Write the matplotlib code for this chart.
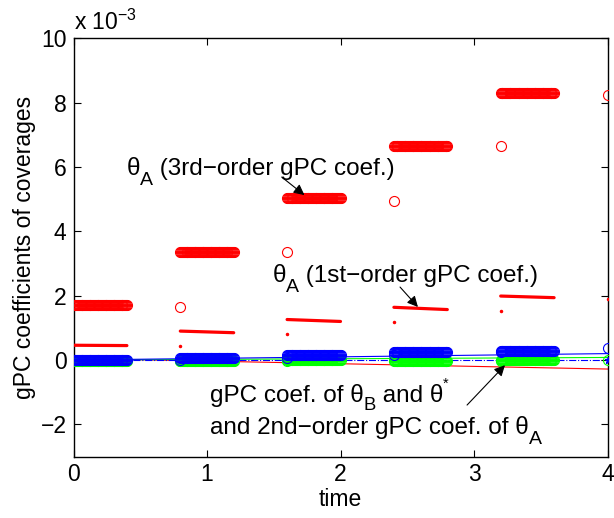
import numpy as np
import matplotlib
matplotlib.use("Agg")
import matplotlib.pyplot as plt
from matplotlib.transforms import offset_copy

plt.rcParams['font.family'] = ['Liberation Sans', 'DejaVu Sans']
plt.rcParams['mathtext.fontset'] = 'custom'
plt.rcParams['mathtext.rm'] = 'Liberation Sans'
plt.rcParams['mathtext.it'] = 'Liberation Sans'
plt.rcParams['mathtext.bf'] = 'Liberation Sans:bold'
plt.rcParams['axes.unicode_minus'] = True

# ---------------- data (values in units of 1e-3) ----------------
seg_start = [0.0, 0.8, 1.6, 2.4, 3.2]
seg_offsets = np.linspace(0.0, 0.4, 61)          # sampling times inside a segment
jump_t = [0.8, 1.6, 2.4, 3.2, 4.0]

red3_band = [1.72, 3.35, 5.03, 6.65, 8.30]
red3_jump = [1.66, 3.35, 4.95, 6.65, 8.25]

red1_start = [0.46, 0.90, 1.26, 1.64, 1.99]
red1_end = [0.45, 0.85, 1.20, 1.57, 1.94]
red1_jump = [0.44, 0.81, 1.17, 1.52, 1.90]

blue_band = [0.00, 0.06, 0.15, 0.25, 0.27]
blue_jump = [0.00, 0.06, 0.15, 0.25, 0.37]
green_band = [-0.02, -0.03, -0.01, -0.02, 0.00]
green_jump = [-0.02, -0.03, -0.01, -0.02, 0.00]

line_t = [0.0, 4.0]
blue_line = [0.00, 0.20]
green_line = [0.00, 0.08]
red_line = [0.05, -0.28]
dashdot_line = [0.00, 0.00]

xticks = [0, 1, 2, 3, 4]
yticks = [-2, 0, 2, 4, 6, 8, 10]

# ---------------- figure ----------------
fig = plt.figure(figsize=(6.14, 5.18), dpi=100)
ax = fig.add_axes([73.5 / 614, (518 - 456.5) / 518, 534 / 614, 418 / 518])

FS = 16.5      # ticks / axis labels
AFS = 17.5     # annotations
ms = 7.2

# thin lines
ax.plot(line_t, red_line, color='red', lw=0.8, zorder=1)
ax.plot(line_t, green_line, color='#00ff00', lw=0.8, zorder=1)
ax.plot(line_t, blue_line, color='blue', lw=0.8, zorder=1)
ax.plot(line_t, dashdot_line, color='blue', lw=0.8, ls='-.', zorder=1)

for i, t0 in enumerate(seg_start):
    tt = t0 + seg_offsets
    ax.plot(tt, np.full_like(tt, red3_band[i]), 'o', mfc='none', mec='red',
            ms=ms, mew=0.8, zorder=3)
    ax.plot(tt, np.full_like(tt, green_band[i]), 'o', mfc='none', mec='#00ff00',
            ms=ms, mew=0.8, zorder=3)
    ax.plot(tt, np.full_like(tt, blue_band[i]), 'o', mfc='none', mec='blue',
            ms=ms, mew=0.8, zorder=4)
    ax.plot([t0, t0 + 0.4], [red1_start[i], red1_end[i]], color='red', lw=2.3,
            solid_capstyle='round', zorder=3)

ax.plot(jump_t, red3_jump, 'o', mfc='none', mec='red', ms=ms, mew=0.8, zorder=3)
ax.plot(jump_t, red1_jump, '.', color='red', ms=3, zorder=3)
ax.plot(jump_t, green_jump, 'o', mfc='none', mec='#00ff00', ms=ms, mew=0.8, zorder=3)
ax.plot(jump_t, blue_jump, 'o', mfc='none', mec='blue', ms=ms, mew=0.8, zorder=4)
ax.plot([4.0], [0.0], '*', color='blue', ms=5, zorder=5)

ax.set_xlim(0, 4)
ax.set_ylim(-3, 10)
ax.set_xticks(xticks)
ax.set_yticks(yticks)
ax.set_xticklabels([str(v) for v in xticks])
ax.set_yticklabels([str(v).replace('-', '\u2212') for v in yticks])
ax.tick_params(direction='in', top=True, right=True, length=5, width=0.8,
               labelsize=FS, pad=5)
for s in ax.spines.values():
    s.set_linewidth(1.0)

ax.set_xlabel('time', fontsize=FS, labelpad=1)
ax.set_ylabel('gPC coefficients of coverages', fontsize=FS, labelpad=3)

fig.text(74 / 614, 1 - 30 / 518, r'x 10$^{\mathregular{-3}}$', fontsize=FS,
         va='baseline', ha='left')

renderer = fig.canvas.get_renderer()


def rich_text(x, y, pieces):
    dx = 0.0
    for s, fs, dy in pieces:
        tr = offset_copy(ax.transData, fig=fig, x=dx, y=dy, units='dots')
        t = ax.text(x, y, s, fontsize=fs, transform=tr, va='baseline', ha='left')
        dx += t.get_window_extent(renderer).width


SUB = AFS * 0.8
SUBDY = -10

arrow = dict(arrowstyle='-|>', color='black', lw=0.8, mutation_scale=16,
             shrinkA=0, shrinkB=0)

rich_text(0.40, 5.75, [('\u03b8', AFS, 0), ('A', SUB, SUBDY),
                       (' (3rd\u2212order gPC coef.)', AFS, 0)])
ax.annotate('', xy=(1.73, 5.13), xytext=(1.56, 5.69), arrowprops=arrow)

rich_text(1.494, 2.44, [('\u03b8', AFS, 0), ('A', SUB, SUBDY),
                        (' (1st\u2212order gPC coef.)', AFS, 0)])
ax.annotate('', xy=(2.58, 1.65), xytext=(2.446, 2.27), arrowprops=arrow)

rich_text(1.022, -1.30, [('gPC coef. of \u03b8', AFS, 0), ('B', SUB * 0.95, -8),
                         (' and \u03b8', AFS, 0), ('*', AFS * 0.6, 14)])
rich_text(1.022, -2.30, [('and 2nd\u2212order gPC coef. of \u03b8', AFS, 0),
                         ('A', SUB, SUBDY)])
ax.annotate('', xy=(3.232, -0.16), xytext=(2.948, -1.40), arrowprops=arrow)

fig.savefig('out.png', dpi=100)
